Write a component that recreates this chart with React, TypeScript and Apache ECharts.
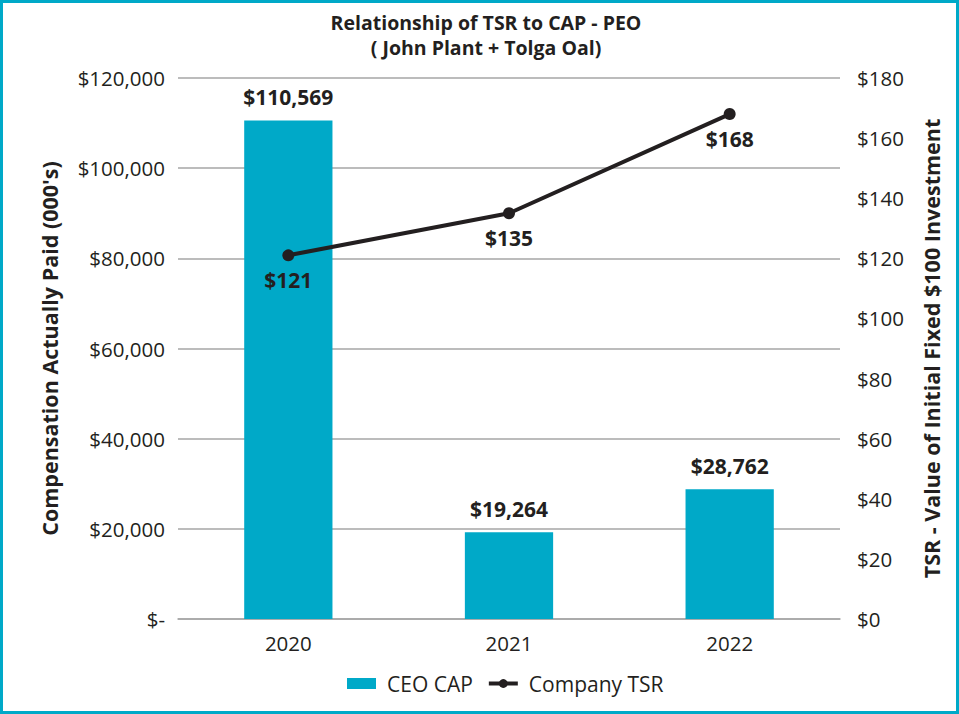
import React, { useEffect, useRef } from "react";
import * as echarts from "echarts";

const years = ["2020", "2021", "2022"];
const ceoCap = [110569, 19264, 28762];
const companyTsr = [121, 135, 168];
const leftTicks = [0, 20000, 40000, 60000, 80000, 100000, 120000];
const rightTicks = [0, 20, 40, 60, 80, 100, 120, 140, 160, 180];

const TEAL = "#00a9c8";
const DARK = "#231f20";
const FONT = "'Open Sans', 'Noto Sans', sans-serif";

const fmt = (v: number) => v.toLocaleString("en-US");

export default function App() {
  const ref = useRef<HTMLDivElement>(null);
  useEffect(() => {
    if (!ref.current) return;
    const chart = echarts.init(ref.current, undefined, { renderer: "svg" });
    chart.setOption({
      animation: false,
      textStyle: { fontFamily: FONT },
      title: {
        text: "Relationship of TSR to CAP - PEO\n( John Plant + Tolga Oal)",
        left: 481,
        textAlign: "center",
        top: 5,
        textStyle: { fontFamily: FONT, fontSize: 19.5, fontWeight: "bold", color: DARK, lineHeight: 25 },
      },
      legend: {
        bottom: 15,
        left: 342,
        itemGap: 14,
        itemWidth: 29,
        itemHeight: 11,
        textStyle: { fontFamily: FONT, fontSize: 21, color: DARK, padding: [0, 0, 0, 6] },
        data: [
          { name: "CEO CAP", icon: "rect" },
          { name: "Company TSR", itemStyle: { color: DARK }, lineStyle: { width: 4, color: DARK } },
        ],
      },
      grid: { left: 178, right: 119, top: 78, bottom: 95, containLabel: false },
      xAxis: {
        type: "category",
        data: years,
        axisTick: { show: false },
        axisLine: { lineStyle: { color: "#a6a6a6", width: 1.5 } },
        axisLabel: { fontFamily: FONT, fontSize: 20.5, color: DARK, margin: 13 },
      },
      yAxis: [
        {
          type: "value",
          min: leftTicks[0],
          max: leftTicks[leftTicks.length - 1],
          interval: 20000,
          name: "Compensation Actually Paid (000's)",
          nameLocation: "middle",
          nameGap: 118,
          nameTextStyle: { fontFamily: FONT, fontSize: 21.5, fontWeight: "bold", color: DARK },
          axisLine: { show: false },
          axisTick: { show: false },
          splitLine: { lineStyle: { color: "#a6a6a6", width: 1.5 } },
          axisLabel: {
            fontFamily: FONT,
            fontSize: 20.5,
            color: DARK,
            margin: 13,
            formatter: (v: number) => (v === 0 ? "$-" : "$" + fmt(v)),
          },
        },
        {
          type: "value",
          min: rightTicks[0],
          max: rightTicks[rightTicks.length - 1],
          interval: 20,
          position: "right",
          name: "TSR - Value of Initial Fixed $100 Investment",
          nameLocation: "middle",
          nameGap: 80,
          nameRotate: 90,
          nameTextStyle: { fontFamily: FONT, fontSize: 21.5, fontWeight: "bold", color: DARK },
          axisLine: { show: false },
          axisTick: { show: false },
          splitLine: { show: false },
          axisLabel: {
            fontFamily: FONT,
            fontSize: 20.5,
            color: DARK,
            margin: 17,
            formatter: (v: number) => "$" + v,
          },
        },
      ],
      series: [
        {
          name: "CEO CAP",
          type: "bar",
          data: ceoCap,
          yAxisIndex: 0,
          barWidth: "40%",
          itemStyle: { color: TEAL },
          label: {
            show: true,
            position: "top",
            distance: 13,
            fontFamily: FONT,
            fontSize: 21,
            fontWeight: "bold",
            color: DARK,
            formatter: (p: any) => "$" + fmt(p.value),
          },
        },
        {
          name: "Company TSR",
          type: "line",
          data: companyTsr,
          yAxisIndex: 1,
          symbol: "circle",
          symbolSize: 12,
          lineStyle: { color: DARK, width: 4 },
          itemStyle: { color: DARK },
          label: {
            show: true,
            position: "bottom",
            distance: 8,
            fontFamily: FONT,
            fontSize: 21,
            fontWeight: "bold",
            color: DARK,
            formatter: (p: any) => "$" + p.value,
          },
        },
      ],
    });
    return () => chart.dispose();
  }, []);

  return (
    <div
      style={{
        position: "absolute",
        left: 0,
        top: 0,
        width: 959,
        height: 714,
        boxSizing: "border-box",
        border: "3px solid " + TEAL,
        background: "#fff",
      }}
    >
      <div ref={ref} style={{ position: "absolute", left: -3, top: -3, width: 959, height: 714 }} />
    </div>
  );
}
